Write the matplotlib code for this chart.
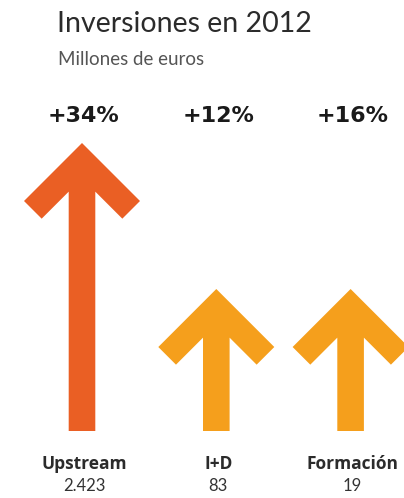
import matplotlib
matplotlib.use("Agg")
import matplotlib.pyplot as plt
from matplotlib.patches import Polygon

# data
categories = ["Upstream", "I+D", "Formación"]
values = [2423, 83, 19]
value_labels = ["2.423", "83", "19"]
changes = [34, 12, 16]

TITLE = "Inversiones en 2012"
SUBTITLE = "Millones de euros"

# colours
COL_MAIN = "#EA5F24"
COL_REST = "#F59F1C"

# layout (pixel units, y grows downward)
W, H = 404, 498
X0, DX = 82, 134.3
TIP_TALL, TIP_SHORT = 143, 289
BASE = 431
HEAD = 58       # half width of arrow head
THICK = 25      # thickness of head wings
SHAFT = 13.3    # half width of shaft


def arrow_pts(cx, ty, yb):
    d = THICK / 2 ** 0.5
    inner = ty + HEAD + d - (HEAD - d - SHAFT)
    left = [(cx - HEAD, ty + HEAD), (cx - HEAD + d, ty + HEAD + d),
            (cx - SHAFT, inner), (cx - SHAFT, yb)]
    right = [(cx + SHAFT, yb), (cx + SHAFT, inner),
             (cx + HEAD - d, ty + HEAD + d), (cx + HEAD, ty + HEAD)]
    return [(cx, ty)] + left + right


fig = plt.figure(figsize=(W / 100, H / 100), dpi=100)
ax = fig.add_axes([0, 0, 1, 1])
ax.set_xlim(0, W)
ax.set_ylim(H, 0)
ax.axis("off")

fig.text(57 / W, 1 - 32 / H, TITLE, fontsize=20.5, family="Lato",
         color="#2b2b2b", va="baseline", ha="left")
fig.text(58 / W, 1 - 65 / H, SUBTITLE, fontsize=13.5, family="Lato",
         color="#555555", va="baseline", ha="left")

vmax = max(values)
for i, (cat, v, lab, ch) in enumerate(zip(categories, values, value_labels, changes)):
    cx = X0 + DX * i
    tall = v == vmax
    ty = TIP_TALL if tall else TIP_SHORT
    col = COL_MAIN if tall else COL_REST
    ax.add_patch(Polygon(arrow_pts(cx, ty, BASE), closed=True, fc=col, ec="none"))
    ax.text(cx + 2, 122, f"+{ch}%", fontsize=16, family="DejaVu Sans", weight="bold",
            color="#1a1a1a", ha="center", va="baseline")
    ax.text(cx + 2, 469, cat, fontsize=12.5, family="Open Sans", weight="bold",
            color="#2b2b2b", ha="center", va="baseline")
    ax.text(cx + 2, 486, lab, fontsize=12, family="Lato",
            color="#333333", ha="center", va="center")

fig.savefig("out.png", dpi=100)
